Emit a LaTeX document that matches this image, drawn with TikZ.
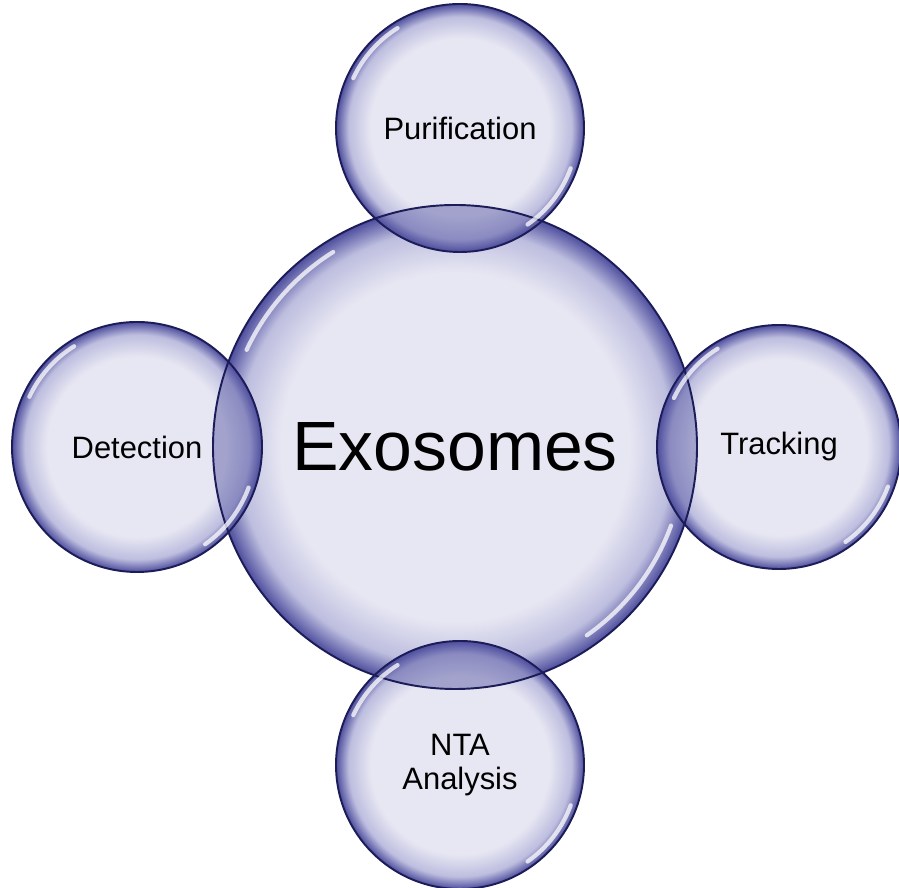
\documentclass[tikz,border=0pt]{standalone}
\usepackage{fontspec}
\setmainfont{Liberation Sans}
\usetikzlibrary{calc}
\definecolor{orbin}{HTML}{E7E7F3}
\definecolor{orbmid}{HTML}{BDBDDF}
\definecolor{orbout}{HTML}{4E4E9E}
\definecolor{orbline}{HTML}{1C1C58}
\pgfdeclareradialshading{orbshade}{\pgfpoint{0bp}{0bp}}{color(0bp)=(orbin); color(18bp)=(orbin); color(22.5bp)=(orbmid); color(25bp)=(orbout); color(50bp)=(orbout)}
\tikzstyle{orb}=[circle, inner sep=0pt, shading=orbshade, align=center, font=\fontsize{17.6}{19}\selectfont]
\tikzstyle{rim}=[draw=orbline, line width=1.1pt]
\tikzstyle{lens}=[fill=orbout, opacity=0.45]
\tikzstyle{gloss}=[draw=white, line width=2.4pt, line cap=round, opacity=0.75]

\begin{document}
\begin{tikzpicture}[x=0.02cm, y=0.02cm]
    \useasboundingbox (0,0) rectangle (899,888);
    \node[orb, minimum size=9.68cm, font=\fontsize{39.7}{44}\selectfont] (exo) at (455,441) {Exosomes};
    \node[orb, minimum size=4.96cm] (pur) at (460,760) {Purification};
    \node[orb, minimum size=5cm] (det) at (137,441) {Detection};
    \node[orb, minimum size=4.88cm] (trk) at (779,441) {Tracking};
    \node[orb, minimum size=4.96cm] (nta) at (460,123) {NTA\\Analysis};
    % overlaps
    \foreach \s/\r in {pur/124, det/125, trk/122, nta/124} {
        \begin{scope}
            \clip (\s.center) circle (\r);
            \fill[lens] (exo.center) circle (242);
        \end{scope}
    }
    % highlights and rims
    \foreach \s/\r in {exo/242, pur/124, det/125, trk/122, nta/124} {
        \draw[gloss] ($(\s.center)+(122:0.95*\r)$) arc[start angle=122, end angle=155, radius=0.95*\r];
        \draw[gloss] ($(\s.center)+(-20:0.95*\r)$) arc[start angle=-20, end angle=-55, radius=0.95*\r];
        \draw[rim] (\s.center) circle (\r);
    }
\end{tikzpicture}
\end{document}
